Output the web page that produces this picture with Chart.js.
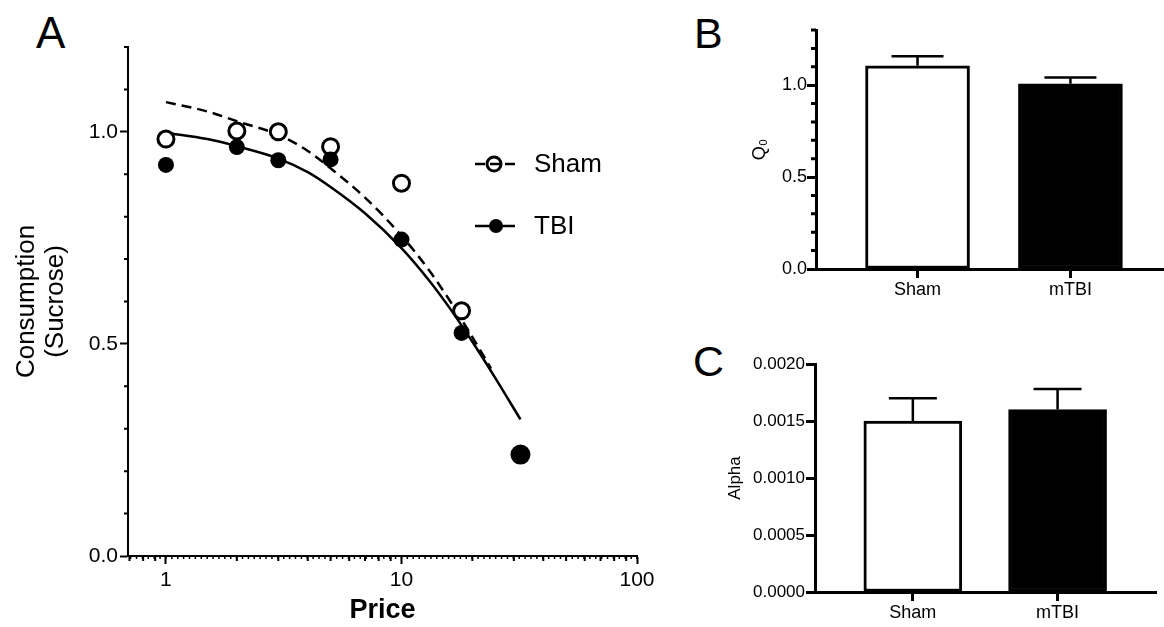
<!DOCTYPE html>
<html>
<head>
<meta charset="utf-8">
<script src="https://cdn.jsdelivr.net/npm/chart.js@4.4.1/dist/chart.umd.min.js"></script>
<style>
  body { margin: 0; background: #fff; width: 1164px; height: 627px; position: relative; overflow: hidden;
         font-family: "Liberation Sans", Arial, sans-serif; }
  canvas { position: absolute; }
  .panel { position: absolute; color: #000; }
</style>
</head>
<body>
<div class="panel" style="left:36px;top:11px;font-size:44px;line-height:44px">A</div>
<div class="panel" style="left:694px;top:12px;font-size:43px;line-height:43px">B</div>
<div class="panel" style="left:693px;top:340px;font-size:43px;line-height:43px">C</div>
<canvas id="chartA" width="660" height="627" style="left:0;top:0"></canvas>
<canvas id="chartB" width="504" height="320" style="left:660px;top:0"></canvas>
<canvas id="chartC" width="504" height="307" style="left:660px;top:320px"></canvas>
<script>
// panel A - demand curves
var shamPrice = [1, 2, 3, 5, 10, 18];
var shamConsumption = [0.983, 1.002, 1.0, 0.965, 0.879, 0.578];
var tbiPrice = [1, 2, 3, 5, 10, 18, 32];
var tbiConsumption = [0.922, 0.964, 0.933, 0.935, 0.746, 0.526, 0.239];

var shamFitPrice = [1, 1.5, 2, 3, 4, 5, 7, 10, 13, 16, 20, 24];
var shamFit = [1.070, 1.048, 1.025, 0.993, 0.955, 0.914, 0.845, 0.755, 0.676, 0.603, 0.516, 0.442];
var tbiFitPrice = [1, 1.5, 2, 3, 4, 5, 7, 10, 13, 16, 20, 25, 32];
var tbiFit = [0.998, 0.983, 0.966, 0.937, 0.905, 0.870, 0.808, 0.726, 0.652, 0.585, 0.505, 0.420, 0.322];

var priceTicks = [1, 10, 100];
var consumptionTicks = [0, 0.5, 1.0];

// panels B and C - bars with SEM
var groups = ['Sham', 'mTBI'];
var q0Mean = [1.105, 1.007];
var q0Sem = [0.052, 0.035];
var alphaMean = [0.0015, 0.0016];
var alphaSem = [0.0002, 0.00018];
var q0Ticks = [0, 0.5, 1.0];
var alphaTicks = [0, 0.0005, 0.001, 0.0015, 0.002];

Chart.defaults.font.family = '"Liberation Sans", Arial, sans-serif';
Chart.defaults.color = '#000';
Chart.defaults.animation = false;

function pts(xs, ys) {
  return xs.map(function(x, i) { return {x: x, y: ys[i]}; });
}

var minorTicks = {
  id: 'minorTicks',
  afterDraw: function(chart, args, opts) {
    var ctx = chart.ctx;
    ctx.save();
    ctx.strokeStyle = '#000';
    (opts.sets || []).forEach(function(s) {
      var sc = chart.scales[s.axis];
      ctx.lineWidth = s.width;
      ctx.beginPath();
      s.values.forEach(function(v) {
        var p = sc.getPixelForValue(v);
        if (sc.isHorizontal()) {
          var y = chart.chartArea.bottom;
          ctx.moveTo(p, y); ctx.lineTo(p, y + s.len);
        } else {
          var x = chart.chartArea.left;
          ctx.moveTo(x, p); ctx.lineTo(x - s.len, p);
        }
      });
      ctx.stroke();
    });
    ctx.restore();
  }
};

var errorBars = {
  id: 'errorBars',
  afterDatasetsDraw: function(chart, args, opts) {
    var ctx = chart.ctx;
    var meta = chart.getDatasetMeta(0);
    var ys = chart.scales.y;
    ctx.save();
    ctx.strokeStyle = '#000';
    ctx.lineWidth = opts.width;
    meta.data.forEach(function(bar, i) {
      var top = ys.getPixelForValue(opts.mean[i] + opts.err[i]);
      ctx.beginPath();
      ctx.moveTo(bar.x, bar.y);
      ctx.lineTo(bar.x, top);
      ctx.moveTo(bar.x - opts.cap / 2, top);
      ctx.lineTo(bar.x + opts.cap / 2, top);
      ctx.stroke();
    });
    ctx.restore();
  }
};

var legendA = {
  id: 'legendA',
  afterDraw: function(chart) {
    var ctx = chart.ctx;
    ctx.save();
    ctx.strokeStyle = '#000';
    ctx.lineWidth = 2.5;
    // Sham
    ctx.setLineDash([10, 5]);
    ctx.beginPath(); ctx.moveTo(475, 164); ctx.lineTo(515, 164); ctx.stroke();
    ctx.setLineDash([]);
    ctx.lineWidth = 3;
    ctx.beginPath(); ctx.arc(494, 164, 7, 0, Math.PI * 2); ctx.stroke();
    // TBI
    ctx.lineWidth = 2.5;
    ctx.beginPath(); ctx.moveTo(475, 226); ctx.lineTo(515, 226); ctx.stroke();
    ctx.fillStyle = '#000';
    ctx.beginPath(); ctx.arc(496, 226, 7, 0, Math.PI * 2); ctx.fill();
    ctx.font = '26px "Liberation Sans", Arial, sans-serif';
    ctx.textBaseline = 'middle';
    ctx.fillText('Sham', 534, 165);
    ctx.fillText('TBI', 534, 227);
    ctx.restore();
  }
};

// minor tick positions on the log price axis
var xSmall = [];
for (var i = -6; i <= 80; i++) xSmall.push(Math.pow(10, i * 0.025));
var xMedium = [0.7, 0.8, 0.9, 2, 3, 4, 5, 6, 7, 8, 9, 20, 30, 40, 50, 60, 70, 80, 90];

new Chart(document.getElementById('chartA'), {
  type: 'line',
  data: {
    datasets: [
      {label: 'TBI', data: pts(tbiPrice, tbiConsumption), showLine: false,
       pointRadius: [8, 8, 8, 8, 8, 8, 10], pointBackgroundColor: '#000', pointBorderColor: '#000', pointBorderWidth: 0, order: 0},
      {label: 'Sham', data: pts(shamPrice, shamConsumption), showLine: false,
       pointRadius: 8, pointBackgroundColor: '#fff', pointBorderColor: '#000', pointBorderWidth: 3, order: 1},
      {label: 'Sham fit', data: pts(shamFitPrice, shamFit), borderColor: '#000', borderWidth: 2.5, borderDash: [10, 6],
       pointRadius: 0, tension: 0.4, cubicInterpolationMode: 'monotone', fill: false, order: 2},
      {label: 'TBI fit', data: pts(tbiFitPrice, tbiFit), borderColor: '#000', borderWidth: 2.5,
       pointRadius: 0, tension: 0.4, cubicInterpolationMode: 'monotone', fill: false, order: 2}
    ]
  },
  options: {
    responsive: false,
    devicePixelRatio: 1,
    layout: {padding: {left: 0, top: 47, right: 23, bottom: 0}},
    plugins: {
      legend: {display: false},
      tooltip: {enabled: false},
      minorTicks: {sets: [
        {axis: 'y', values: [0.1, 0.2, 0.3, 0.4, 0.6, 0.7, 0.8, 0.9, 1.1, 1.2], len: 4, width: 2},
        {axis: 'x', values: xSmall, len: 3, width: 1.5},
        {axis: 'x', values: xMedium, len: 5, width: 2}
      ]}
    },
    scales: {
      x: {
        type: 'logarithmic', min: 0.69, max: 100,
        afterBuildTicks: function(s) { s.ticks = priceTicks.map(function(v) { return {value: v}; }); },
        afterFit: function(s) { s.height = 71; },
        ticks: {font: {size: 21}, padding: 4, maxRotation: 0, callback: function(v) { return String(v); }},
        grid: {display: true, drawOnChartArea: false, drawTicks: true, tickLength: 8, tickWidth: 2, tickColor: '#000'},
        border: {display: true, color: '#000', width: 2},
        title: {display: true, text: 'Price', font: {size: 27, weight: 'bold'}, padding: {top: 0, bottom: 0}}
      },
      y: {
        min: 0, max: 1.2,
        afterBuildTicks: function(s) { s.ticks = consumptionTicks.map(function(v) { return {value: v}; }); },
        afterFit: function(s) { s.width = 128; },
        ticks: {font: {size: 21}, padding: 2, callback: function(v) { return v.toFixed(1); }},
        grid: {display: true, drawOnChartArea: false, drawTicks: true, tickLength: 8, tickWidth: 2, tickColor: '#000'},
        border: {display: true, color: '#000', width: 2},
        title: {display: true, text: ['Consumption', '(Sucrose)'], font: {size: 26, lineHeight: 1.1}, padding: {top: 13, bottom: 0}}
      }
    }
  },
  plugins: [minorTicks, legendA]
});

function barChart(id, mean, err, opts) {
  return new Chart(document.getElementById(id), {
    type: 'bar',
    data: {
      datasets: [{
        data: pts([1, 2], mean),
        backgroundColor: ['#fff', '#000'],
        borderColor: '#000',
        borderWidth: 3,
        borderSkipped: false,
        barThickness: opts.barWidth
      }]
    },
    options: {
      responsive: false,
      devicePixelRatio: 1,
      layout: {padding: {left: 0, top: opts.top, right: opts.right, bottom: 0}},
      plugins: {
        legend: {display: false},
        tooltip: {enabled: false},
        errorBars: {mean: mean, err: err, width: 2.5, cap: opts.cap},
        minorTicks: {sets: opts.minor}
      },
      scales: {
        x: {
          type: 'linear', min: opts.xmin, max: opts.xmax, offset: false,
          afterBuildTicks: function(s) { s.ticks = [{value: 1}, {value: 2}]; },
          afterFit: function(s) { s.height = opts.xHeight; },
          ticks: {font: {size: 18}, padding: 1, maxRotation: 0, callback: function(v) { return groups[v - 1]; }},
          grid: {display: true, offset: false, drawOnChartArea: false, drawTicks: true, tickLength: 9, tickWidth: 3, tickColor: '#000'},
          border: {display: true, color: '#000', width: 3}
        },
        y: {
          min: 0, max: opts.ymax,
          afterBuildTicks: function(s) { s.ticks = opts.yTicks.map(function(v) { return {value: v}; }); },
          afterFit: function(s) { s.width = opts.yWidth; },
          ticks: {font: {size: opts.tickSize}, padding: opts.tickPad, callback: function(v) { return v.toFixed(opts.digits); }},
          grid: {display: true, drawOnChartArea: false, drawTicks: true, tickLength: 9, tickWidth: 3, tickColor: '#000'},
          border: {display: true, color: '#000', width: 3},
          title: {display: true, text: opts.title, font: {size: opts.tickSize}, padding: {top: opts.titlePad, bottom: 0}}
        }
      }
    },
    plugins: [errorBars, minorTicks]
  });
}

barChart('chartB', q0Mean, q0Sem, {
  top: 30, right: 0, xmin: 0.336, xmax: 2.612, xHeight: 51, yWidth: 156, ymax: 1.3,
  yTicks: q0Ticks, digits: 1, tickSize: 18, tickPad: 0, title: 'Q\u2080', titlePad: 89,
  barWidth: 104, cap: 52,
  minor: [{axis: 'y', values: [0.1, 0.2, 0.3, 0.4, 0.6, 0.7, 0.8, 0.9, 1.1, 1.2, 1.3], len: 5, width: 3}]
});

barChart('chartC', alphaMean, alphaSem, {
  top: 44, right: 8, xmin: 0.324, xmax: 2.68, xHeight: 35, yWidth: 155, ymax: 0.002,
  yTicks: alphaTicks, digits: 4, tickSize: 17, tickPad: 1, title: 'Alpha', titlePad: 65,
  barWidth: 98, cap: 48,
  minor: []
});
</script>
</body>
</html>
